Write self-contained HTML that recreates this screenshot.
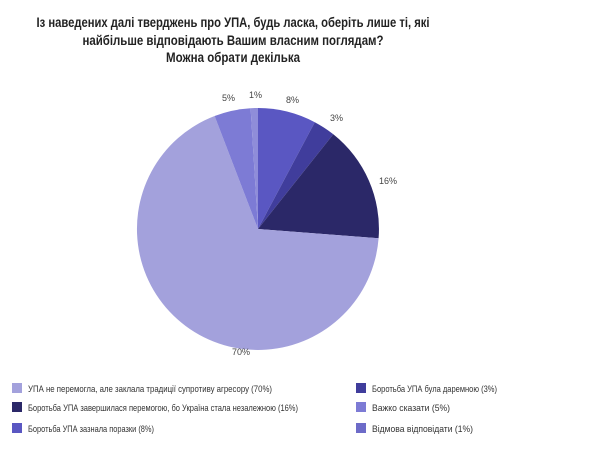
<!DOCTYPE html>
<html><head><meta charset="utf-8"><style>body{margin:0;background:#fff}svg{display:block}</style></head>
<body>
<svg width="600" height="460" xmlns="http://www.w3.org/2000/svg" font-family="Liberation Sans, DejaVu Sans, sans-serif">
<g font-weight="bold" font-size="13.5" fill="#222" text-anchor="middle">
<text x="233" y="27" textLength="393" lengthAdjust="spacingAndGlyphs">Із наведених далі тверджень про УПА, будь ласка, оберіть лише ті, які</text>
<text x="233" y="45" textLength="301" lengthAdjust="spacingAndGlyphs">найбільше відповідають Вашим власним поглядам?</text>
<text x="233" y="62" textLength="134" lengthAdjust="spacingAndGlyphs">Можна обрати декілька</text>
</g>
<g>
<path d="M258,229 L258,108 A121,121 0 0 1 314.8,122.2 Z" fill="#5a57c2"/>
<path d="M258,229 L314.8,122.2 A121,121 0 0 1 333.3,134.3 Z" fill="#403d9c"/>
<path d="M258,229 L333.3,134.3 A121,121 0 0 1 378.6,238.3 Z" fill="#2b2868"/>
<path d="M258,229 L378.6,238.3 A121,121 0 1 1 214.6,116.0 Z" fill="#a3a1dc"/>
<path d="M258,229 L214.6,116.0 A121,121 0 0 1 250.6,108.2 Z" fill="#7d7bd5"/>
<path d="M258,229 L250.6,108.2 A121,121 0 0 1 258,108 Z" fill="#8f8dd9"/>
</g>
<g font-size="9" fill="#444">
<text x="222" y="101">5%</text>
<text x="249" y="98">1%</text>
<text x="286" y="103">8%</text>
<text x="330" y="121">3%</text>
<text x="379" y="184">16%</text>
<text x="232" y="355">70%</text>
</g>
<g font-size="9.5" fill="#333">
<rect x="12" y="383" width="10" height="10" fill="#a3a1dc"/>
<text x="28" y="392" textLength="244" lengthAdjust="spacingAndGlyphs">УПА не перемогла, але заклала традиції супротиву агресору (70%)</text>
<rect x="12" y="402" width="10" height="10" fill="#2b2868"/>
<text x="28" y="411" textLength="270" lengthAdjust="spacingAndGlyphs">Боротьба УПА завершилася перемогою, бо Україна стала незалежною (16%)</text>
<rect x="12" y="423" width="10" height="10" fill="#5a57c2"/>
<text x="28" y="432" textLength="126" lengthAdjust="spacingAndGlyphs">Боротьба УПА зазнала поразки (8%)</text>
<rect x="356" y="383" width="10" height="10" fill="#403d9c"/>
<text x="372" y="392" textLength="125" lengthAdjust="spacingAndGlyphs">Боротьба УПА була даремною (3%)</text>
<rect x="356" y="402" width="10" height="10" fill="#7d7bd5"/>
<text x="372" y="411" textLength="78" lengthAdjust="spacingAndGlyphs">Важко сказати (5%)</text>
<rect x="356" y="423" width="10" height="10" fill="#6d6bc8"/>
<text x="372" y="432" textLength="101" lengthAdjust="spacingAndGlyphs">Відмова відповідати (1%)</text>
</g>
</svg>
</body></html>
